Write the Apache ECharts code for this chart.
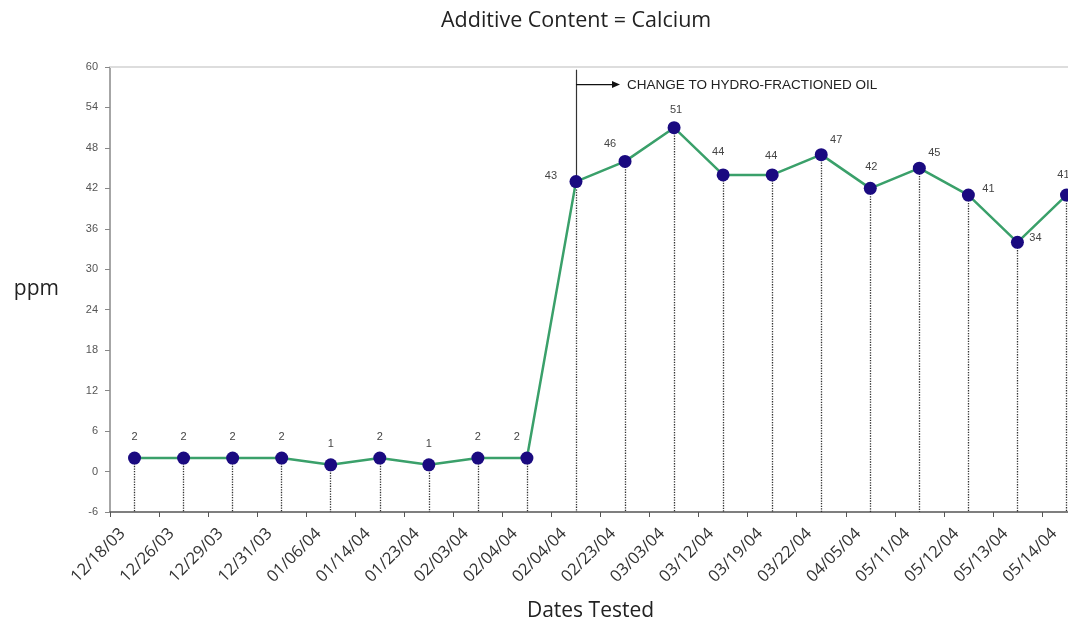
<!DOCTYPE html>
<html><head><meta charset="utf-8">
<script src="https://cdn.jsdelivr.net/npm/echarts@6/dist/echarts.min.js"></script>
<style>html,body{margin:0;padding:0;background:#fff}#c{width:1068px;height:626px}</style>
</head><body><div id="c"></div>
<script>
const categories = ['12/18/03','12/26/03','12/29/03','12/31/03','01/06/04','01/14/04','01/23/04','02/03/04','02/04/04','02/04/04','02/23/04','03/03/04','03/12/04','03/19/04','03/22/04','04/05/04','05/11/04','05/12/04','05/13/04','05/14/04'];
const calcium = [2,2,2,2,1,2,1,2,2,43,46,51,44,44,47,42,45,41,34,41];
const yTicks = {min:-6, max:60, interval:6};
const changeIndex = 9;
const changeText = 'CHANGE TO HYDRO-FRACTIONED OIL';
// label placement (layout only): pixel offsets from each point
const labelOffsets = [[0,-21],[0,-21],[0,-21],[0,-21],[0,-21],[0,-21],[0,-21],[0,-21],[-10,-21],[-25,-6],[-15,-17],[2,-18],[-5,-23],[-1,-19],[15,-15],[1,-21],[15,-15],[20,-6],[18,-4],[-3,-20]];

const chart = echarts.init(document.getElementById('c'));
const drop = calcium.map((v,i)=>[{coord:[i,v]},{coord:[i,yTicks.min]}]);
const option = {
  backgroundColor:'#fff',
  animation:false,
  title:{text:'Additive Content = Calcium',left:436,top:5,
    textStyle:{fontFamily:'Open Sans',fontSize:21.5,fontWeight:'normal',color:'#222'}},
  grid:{left:110,width:981,top:67,bottom:114,outerBoundsMode:'none',containLabel:false},
  xAxis:[{type:'category',data:categories,boundaryGap:true,
    axisLine:{onZero:false,lineStyle:{color:'#555',width:1.5}},
    axisTick:{show:true,length:5,lineStyle:{color:'#555'}},
    axisLabel:{rotate:45,interval:0,fontSize:16.5,color:'#333',fontFamily:'Open Sans',margin:7,padding:[0,17,0,0],hideOverlap:false},
    name:'Dates Tested',nameLocation:'middle',nameGap:89,
    nameTextStyle:{fontFamily:'Open Sans',fontSize:21,color:'#222',padding:[0,20,0,0]}},
   {type:'category',data:categories,position:'top',
    axisLine:{show:true,onZero:false,lineStyle:{color:'#ddd',width:2}},axisTick:{show:false},axisLabel:{show:false}}],
  yAxis:{type:'value',min:yTicks.min,max:yTicks.max,interval:yTicks.interval,
    axisLine:{show:true,lineStyle:{color:'#888',width:1.5}},
    axisTick:{show:true,length:5,lineStyle:{color:'#888'}},
    axisLabel:{fontSize:11,color:'#555',fontFamily:'Liberation Sans',margin:12},
    splitLine:{show:false},
    name:'ppm',nameLocation:'middle',nameRotate:0,nameGap:51,
    nameTextStyle:{fontFamily:'Open Sans',fontSize:21,color:'#222',padding:[0,0,34,0]}},
  series:[{
    type:'line',
    data:calcium.map((v,i)=>({value:v,label:{offset:labelOffsets[i]}})),
    symbol:'circle',symbolSize:13,
    lineStyle:{color:'#3aa06a',width:2.5},
    itemStyle:{color:'#1a0a80'},
    label:{show:true,position:'inside',fontSize:11,color:'#444',fontFamily:'Liberation Sans'},
    z:5,
    markLine:{silent:true,symbol:['none','none'],animation:false,
      label:{show:false},
      lineStyle:{type:'dotted',color:'#333',width:1.3},
      data:drop.concat([[{coord:[changeIndex,calcium[changeIndex]],lineStyle:{type:'solid',color:'#333',width:1.2}},{coord:[changeIndex,59.6]}]])}
  }]
};
chart.setOption(option);
const p0 = chart.convertToPixel({xAxisIndex:0,yAxisIndex:0},[changeIndex,57.4]);
chart.setOption({graphic:[
  {type:'line',shape:{x1:p0[0],y1:p0[1],x2:p0[0]+38,y2:p0[1]},style:{stroke:'#111',lineWidth:1.2},z:10},
  {type:'polygon',shape:{points:[[p0[0]+44,p0[1]],[p0[0]+36,p0[1]-3.5],[p0[0]+36,p0[1]+3.5]]},style:{fill:'#111'},z:10},
  {type:'text',x:p0[0]+51,y:p0[1]+1,style:{text:changeText,fill:'#222',fontSize:13.5,fontFamily:'Liberation Sans',verticalAlign:'middle'},z:10}
]});
</script></body></html>
